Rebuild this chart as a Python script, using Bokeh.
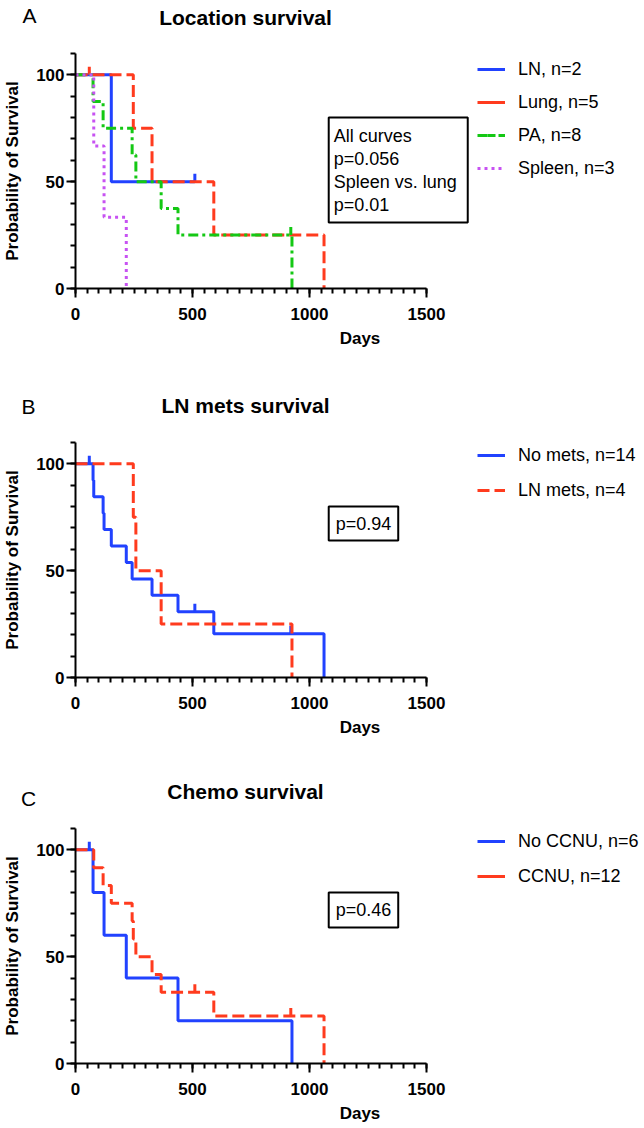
import numpy as np
from bokeh.plotting import figure
from bokeh.models import Range1d, FixedTicker, Label, BoxAnnotation, Legend, LegendItem
from bokeh.layouts import column
from bokeh.embed import file_html
from bokeh.resources import INLINE

# ---------------- data: survival time in days, event 1 = death, 0 = censored ----------------
a_title = "Location survival"
a_ln_days = [153, 510]
a_ln_event = [1, 0]
a_lung_days = [59, 247, 327, 591, 1062]
a_lung_event = [0, 1, 1, 1, 1]
a_pa_days = [75, 118, 242, 258, 366, 438, 920, 925]
a_pa_event = [1, 1, 1, 1, 1, 1, 0, 1]
a_spleen_days = [78, 122, 217]
a_spleen_event = [1, 1, 1]
a_labels = ["LN, n=2", "Lung, n=5", "PA, n=8", "Spleen, n=3"]
a_stats = ["All curves", "p=0.056", "Spleen vs. lung", "p=0.01"]

b_title = "LN mets survival"
b_nomets_days = [59, 75, 78, 118, 122, 153, 217, 242, 327, 438, 510, 591, 920, 1062]
b_nomets_event = [0, 1, 1, 1, 1, 1, 1, 1, 1, 1, 0, 1, 0, 1]
b_lnmets_days = [247, 258, 366, 925]
b_lnmets_event = [1, 1, 1, 1]
b_labels = ["No mets, n=14", "LN mets, n=4"]
b_stats = ["p=0.94"]

c_title = "Chemo survival"
c_noccnu_days = [59, 75, 122, 217, 438, 925]
c_noccnu_event = [0, 1, 1, 1, 1, 1]
c_ccnu_days = [78, 118, 153, 242, 247, 258, 327, 366, 510, 591, 920, 1062]
c_ccnu_event = [1, 1, 1, 1, 1, 1, 1, 1, 0, 1, 0, 1]
c_labels = ["No CCNU, n=6", "CCNU, n=12"]
c_stats = ["p=0.46"]

x_ticks = [0, 500, 1000, 1500]
x_minor = list(range(0, 1501, 50))
y_ticks = [0, 50, 100]
y_minor = list(range(0, 111, 10))
x_axis_label = "Days"
y_axis_label = "Probability of Survival"

# ---------------- style / layout ----------------
FONT = "Liberation Sans"
BLUE, RED, GREEN, PURPLE = "#2142FF", "#FF3B1E", "#14C814", "#C752F2"
FIG_W = 644
LEFT_B = 71
FRAME_W = FIG_W - LEFT_B
FRAME_H = 235
TOP_B = 5
X_AXIS_END = 1500
PX_1500 = 353.5
X_END = FRAME_W * X_AXIS_END / PX_1500
Y_END = 110
SX = FRAME_W / X_END
SY = FRAME_H / Y_END
TICK_PX = 8


def km(days, events):
    d = np.asarray(days, dtype=float)
    e = np.asarray(events, dtype=int)
    at_risk = len(d)
    s = 100.0
    xs, ys, cx, cy = [0.0], [100.0], [], []
    for t in np.unique(d):
        m = d == t
        deaths = int(e[m].sum())
        cens = int(m.sum()) - deaths
        if deaths:
            s = s * (1 - deaths / at_risk)
        xs.append(float(t))
        ys.append(s)
        if cens:
            cx.append(float(t))
            cy.append(s)
        at_risk -= int(m.sum())
    return xs, ys, cx, cy


def make_header(page_top, height, letter, letter_xy, title, title_xy):
    h = figure(width=FIG_W, height=height, x_range=Range1d(0, FIG_W), y_range=Range1d(height, 0),
               output_backend="svg", toolbar_location=None, x_axis_type=None, y_axis_type=None,
               min_border_left=0, min_border_right=0, min_border_top=0, min_border_bottom=0)
    h.frame_align = False
    h.outline_line_color = None
    h.grid.visible = False
    h.add_layout(Label(x=letter_xy[0], y=letter_xy[1] - page_top, text=letter, text_font=FONT,
                       text_font_size="21px", text_align="center", text_baseline="middle",
                       text_color="black"))
    h.add_layout(Label(x=title_xy[0], y=title_xy[1] - page_top, text=title, text_font=FONT,
                       text_font_size="21px", text_font_style="bold", text_align="center",
                       text_baseline="middle", text_color="black"))
    return h


def make_panel(page_top, height, series, legend_loc, spacing, box, stat_lines, stat_x, stat_ys,
               stat_align):
    frame_top_page = page_top + TOP_B

    def dx(px):
        return (px - LEFT_B) / SX

    def dy(py):
        return Y_END - (py - frame_top_page) / SY

    p = figure(width=FIG_W, height=height, x_range=Range1d(0, X_END), y_range=Range1d(0, Y_END),
               output_backend="svg", toolbar_location=None,
               min_border_left=LEFT_B, min_border_right=0, min_border_top=TOP_B,
               min_border_bottom=height - TOP_B - FRAME_H)
    p.outline_line_color = None
    p.grid.visible = False

    xa, ya = p.xaxis[0], p.yaxis[0]
    xa.bounds = (0, X_AXIS_END)
    xa.ticker = FixedTicker(ticks=x_ticks, minor_ticks=x_minor)
    ya.bounds = (0, Y_END)
    ya.ticker = FixedTicker(ticks=y_ticks, minor_ticks=y_minor)
    xa.axis_label = x_axis_label
    ya.axis_label = y_axis_label
    for ax in (xa, ya):
        ax.axis_line_width = 2
        ax.axis_line_color = "black"
        ax.major_tick_line_width = 2
        ax.minor_tick_line_width = 2
        ax.major_tick_line_color = "black"
        ax.minor_tick_line_color = "black"
        ax.major_tick_out = 9
        ax.major_tick_in = 0
        ax.minor_tick_out = 5
        ax.minor_tick_in = 0
        ax.major_label_text_font = FONT
        ax.major_label_text_font_style = "bold"
        ax.major_label_text_font_size = "17px"
        ax.major_label_text_color = "black"
        ax.axis_label_text_font = FONT
        ax.axis_label_text_font_style = "bold"
        ax.axis_label_text_font_size = "17px"
        ax.axis_label_text_color = "black"
    xa.major_label_standoff = 10
    xa.axis_label_standoff = 6
    ya.major_label_standoff = 2
    ya.axis_label_standoff = 11

    items = []
    for days, events, color, dash, label in series:
        xs, ys, cx, cy = km(days, events)
        r = p.step(x=xs, y=ys, mode="after", line_color=color, line_width=3, line_dash=dash)
        rs = [r]
        if cx:
            t = p.scatter(x=cx, y=[v + TICK_PX / SY / 2 for v in cy], marker="dash", angle=np.pi / 2,
                          size=TICK_PX, line_color=color, line_width=3)
            rs.append(t)
        items.append(LegendItem(label=label, renderers=rs))

    leg = Legend(items=items, location=legend_loc, glyph_width=28, glyph_height=20,
                 label_standoff=13, spacing=spacing, padding=0, margin=0,
                 border_line_color=None, background_fill_alpha=0,
                 label_text_font=FONT, label_text_font_size="18px", label_text_color="black")
    p.add_layout(leg)

    p.add_layout(BoxAnnotation(left=dx(box[0]), top=dy(box[1]), right=dx(box[2]), bottom=dy(box[3]),
                               fill_alpha=0, line_color="black", line_alpha=1, line_width=2))
    for txt, yy in zip(stat_lines, stat_ys):
        p.add_layout(Label(x=dx(stat_x), y=dy(yy), text=txt, text_font=FONT, text_font_size="18px",
                           text_align=stat_align, text_baseline="middle", text_color="black"))
    return p


hA = make_header(0, 48, "A", (29, 15), a_title, (245, 17))
pA = make_panel(48, 337,
                [(a_ln_days, a_ln_event, BLUE, "solid", a_labels[0]),
                 (a_lung_days, a_lung_event, RED, "12 5", a_labels[1]),
                 (a_pa_days, a_pa_event, GREEN, "10 4 3 4", a_labels[2]),
                 (a_spleen_days, a_spleen_event, PURPLE, "3 4", a_labels[3])],
                (402, 109.5), 12, (326, 117, 466, 222), a_stats, 331, [135, 158, 181, 204], "left")

hB = make_header(385, 52, "B", (28, 406), b_title, (245, 405))
pB = make_panel(437, 333,
                [(b_nomets_days, b_nomets_event, BLUE, "solid", b_labels[0]),
                 (b_lnmets_days, b_lnmets_event, RED, "12 5", b_labels[1])],
                (402, 176.5), 14, (326, 506, 396, 540), b_stats, 361, [523], "center")

hC = make_header(770, 53, "C", (28, 798), c_title, (245, 791))
pC = make_panel(823, 305,
                [(c_noccnu_days, c_noccnu_event, BLUE, "solid", c_labels[0]),
                 (c_ccnu_days, c_ccnu_event, RED, "12 5", c_labels[1])],
                (402, 176.2), 14, (326, 892, 396, 927), c_stats, 361, [909.5], "center")

layout = column(hA, pA, hB, pB, hC, pC, spacing=0)
open("out.html", "w").write(file_html(layout, INLINE))
